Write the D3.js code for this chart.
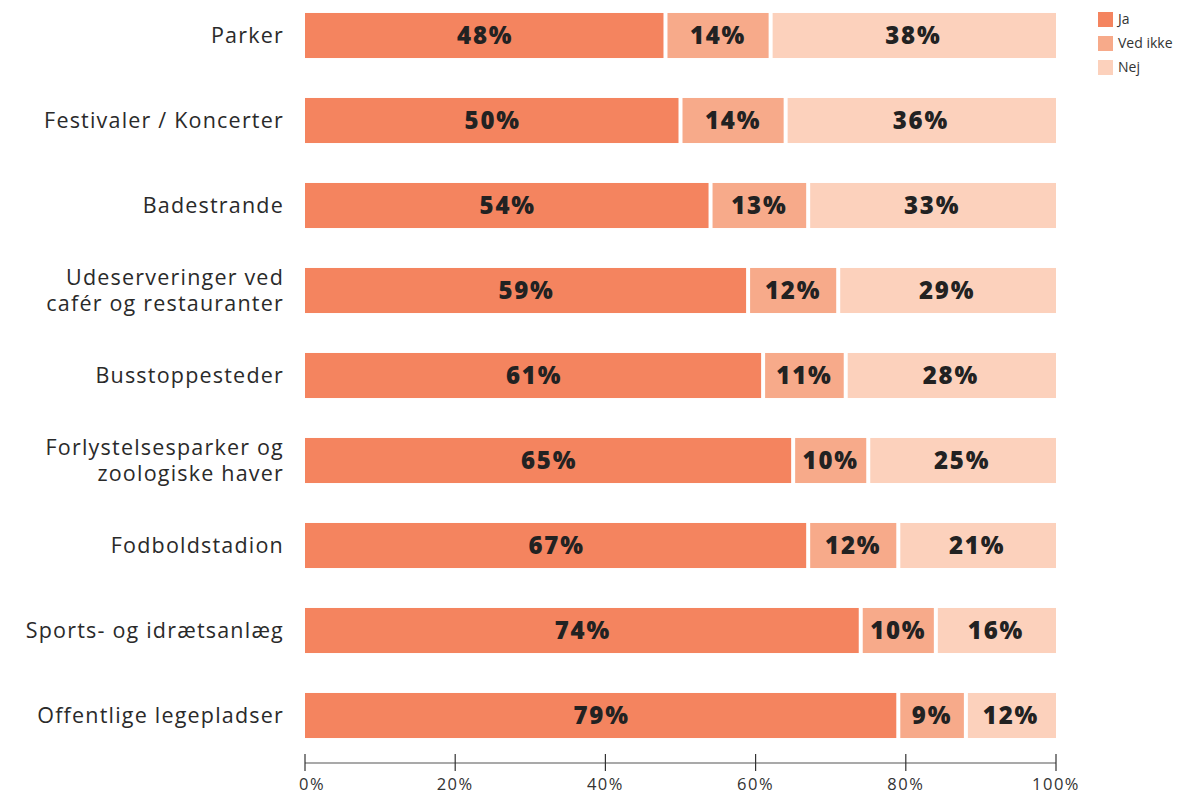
<!DOCTYPE html>
<html>
<head>
<meta charset="utf-8">
<script src="https://cdn.jsdelivr.net/npm/d3@7"></script>
<style>
  body { margin: 0; background: #fff; }
  text { font-family: "Open Sans", "Noto Sans", sans-serif; }
</style>
</head>
<body>
<div id="chart"></div>
<script>
let categories = [
  ["Parker"],
  ["Festivaler / Koncerter"],
  ["Badestrande"],
  ["Udeserveringer ved", "cafér og restauranter"],
  ["Busstoppesteder"],
  ["Forlystelsesparker og", "zoologiske haver"],
  ["Fodboldstadion"],
  ["Sports- og idrætsanlæg"],
  ["Offentlige legepladser"]
];
let ja      = [48, 50, 54, 59, 61, 65, 67, 74, 79];
let vedIkke = [14, 14, 13, 12, 11, 10, 12, 10, 9];
let nej     = [38, 36, 33, 29, 28, 25, 21, 16, 12];
let seriesNames = ["Ja", "Ved ikke", "Nej"];
let colors = ["#f4845f", "#f7aa8a", "#fcd1bc"];
let tickValues = [0, 20, 40, 60, 80, 100];

let svgWidth = 1184;
let svgHeight = 796;
let margin = { top: -7, left: 305, right: 128 };
let width = svgWidth - margin.left - margin.right;

let svg = d3.select('#chart')
            .append('svg')
            .attr('width', svgWidth)
            .attr('height', svgHeight);

let keys = categories.map((d, i) => i);
let y = d3.scaleBand()
          .domain(keys)
          .range([margin.top, margin.top + 85 * keys.length])
          .paddingInner(0.47)
          .paddingOuter(0.235);

let x = d3.scaleLinear()
          .domain([0, 100])
          .range([margin.left, margin.left + width]);

let table = keys.map(i => ({ i: i, Ja: ja[i], "Ved ikke": vedIkke[i], Nej: nej[i] }));
let stacked = d3.stack().keys(seriesNames)(table);

let gap = 2;
stacked.forEach(function(layer, li){
    let g = svg.append('g');
    g.selectAll('rect')
      .data(layer)
      .join('rect')
        .attr('x', d => x(d[0]) + (li > 0 ? gap : 0))
        .attr('y', d => y(d.data.i))
        .attr('width', d => x(d[1]) - x(d[0]) - (li > 0 ? gap : 0) - (li < 2 ? gap : 0))
        .attr('height', y.bandwidth())
        .attr('fill', colors[li]);
    g.selectAll('text')
      .data(layer)
      .join('text')
        .attr('x', d => (x(d[0]) + x(d[1])) / 2)
        .attr('y', d => y(d.data.i) + y.bandwidth() / 2)
        .attr('dy', '0.36em')
        .attr('text-anchor', 'middle')
        .attr('font-size', 24)
        .attr('font-weight', 800)
        .attr('letter-spacing', 1.8)
        .attr('fill', '#222')
        .text(d => (d[1] - d[0]) + '%');
});

// category labels, one text per line
let labels = svg.append('g');
categories.forEach(function(lines, i){
    let cy = y(i) + y.bandwidth() / 2;
    lines.forEach(function(line, k){
        labels.append('text')
          .attr('x', 284)
          .attr('y', cy + (k - (lines.length - 1) / 2) * 26)
          .attr('dy', '0.35em')
          .attr('text-anchor', 'end')
          .attr('font-size', 21.5)
          .attr('letter-spacing', 1.2)
          .attr('fill', '#2a2a2a')
          .text(line);
    });
});

// axis
let axisY = 763;
let axis = svg.append('g');
axis.append('line')
    .attr('x1', x(0)).attr('x2', x(100))
    .attr('y1', axisY).attr('y2', axisY)
    .attr('stroke', '#555').attr('stroke-width', 1.2);
axis.selectAll('.tick')
    .data(tickValues)
    .join('line')
      .attr('x1', d => x(d)).attr('x2', d => x(d))
      .attr('y1', axisY - 9).attr('y2', axisY + 8)
      .attr('stroke', '#333').attr('stroke-width', 1.2);
axis.selectAll('text')
    .data(tickValues)
    .join('text')
      .attr('x', d => d === 0 ? x(d) - 6 : x(d))
      .attr('y', 790)
      .attr('text-anchor', d => d === 0 ? 'start' : 'middle')
      .attr('font-size', 16.5)
      .attr('letter-spacing', 1.5)
      .attr('fill', '#333')
      .text(d => d + '%');

// legend
let legend = svg.append('g');
seriesNames.forEach(function(name, i){
    legend.append('rect')
      .attr('x', 1098).attr('y', 12 + i * 24)
      .attr('width', 15).attr('height', 15)
      .attr('fill', colors[i]);
    legend.append('text')
      .attr('x', 1118).attr('y', 19.5 + i * 24)
      .attr('dy', '0.35em')
      .attr('font-size', 14)
      .attr('fill', '#333')
      .text(name);
});
</script>
</body>
</html>
